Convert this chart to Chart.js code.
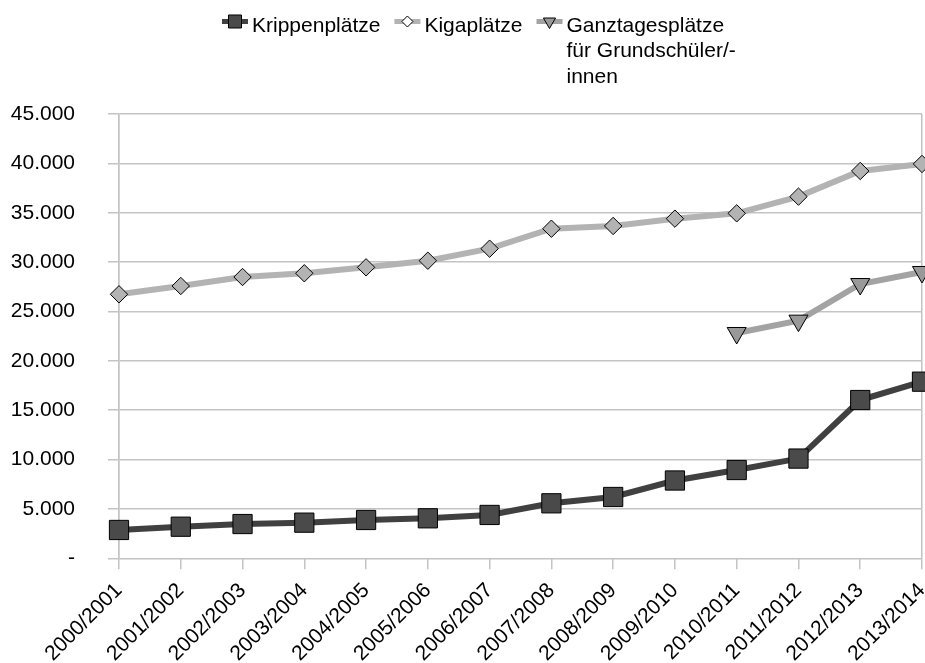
<!DOCTYPE html>
<html><head><meta charset="utf-8">
<script src="https://cdn.jsdelivr.net/npm/chart.js@4.4.1/dist/chart.umd.min.js"></script>
<style>html,body{margin:0;padding:0;background:#fff}#wrap{width:925px;height:663px;position:relative}canvas{display:block}</style>
</head><body><div id="wrap"><canvas id="c" width="925" height="663"></canvas></div>
<script>
const categories = ['2000/2001','2001/2002','2002/2003','2003/2004','2004/2005','2005/2006','2006/2007','2007/2008','2008/2009','2009/2010','2010/2011','2011/2012','2012/2013','2013/2014'];
const krippenplaetze = [2870,3200,3470,3610,3880,4050,4390,5570,6210,7880,8940,10100,16030,17890];
const kigaplaetze = [26740,27580,28490,28870,29470,30140,31360,33380,33660,34400,34940,36630,39230,39940];
const ganztagesplaetze = [null,null,null,null,null,null,null,null,null,null,22820,24070,27780,29000];
const seriesNames = ['Krippenplätze','Kigaplätze',['Ganztagesplätze','für Grundschüler/-','innen']];
const yTickValues = [0,5000,10000,15000,20000,25000,30000,35000,40000,45000];

const FONT = 'Liberation Sans, Arial, sans-serif';
const GRID = '#c4c4c4';

const styles = [
  {line:'#404040', fill:'#4a4a4a', pt:'rect', r:13.6, rot:0, legendFill:'#4a4a4a', legendR:9.2},
  {line:'#b3b3b3', fill:'#b3b3b3', pt:'rectRot', r:8.7, rot:0, legendFill:'#ffffff', legendR:5.5},
  {line:'#a3a3a3', fill:'#999999', pt:'triangle', r:11, rot:180, legendFill:'#999999', legendR:7}
];

const legendPlugin = {
  id: 'customLegend',
  afterDraw(chart) {
    const ctx = chart.ctx;
    ctx.save();
    ctx.font = '21px ' + FONT;
    ctx.textBaseline = 'alphabetic';
    ctx.textAlign = 'left';
    let x = 222;
    const yc = 21.5, base = 31.7, lh = 25.5;
    chart.data.datasets.forEach((ds, i) => {
      const st = styles[i];
      ctx.strokeStyle = st.line;
      ctx.lineWidth = 5;
      ctx.beginPath(); ctx.moveTo(x, yc); ctx.lineTo(x + 26, yc); ctx.stroke();
      ctx.fillStyle = st.legendFill;
      ctx.strokeStyle = '#000';
      ctx.lineWidth = 1;
      Chart.helpers.drawPoint(ctx, {pointStyle: st.pt, rotation: st.rot, radius: st.legendR, borderWidth: 1}, x + 13, yc);
      const lines = Array.isArray(seriesNames[i]) ? seriesNames[i] : [seriesNames[i]];
      ctx.fillStyle = '#000';
      let w = 0;
      lines.forEach((t, k) => { ctx.fillText(t, x + 30, base + k * lh); w = Math.max(w, ctx.measureText(t).width); });
      x += 30 + w + 14;
    });
    ctx.restore();
  }
};

const seriesData = [krippenplaetze, kigaplaetze, ganztagesplaetze];
const datasets = seriesData.map((d, i) => ({
  label: Array.isArray(seriesNames[i]) ? seriesNames[i].join(' ') : seriesNames[i],
  data: d,
  borderColor: styles[i].line,
  backgroundColor: styles[i].fill,
  borderWidth: 6,
  pointStyle: styles[i].pt,
  pointRotation: styles[i].rot,
  pointRadius: styles[i].r,
  pointHoverRadius: styles[i].r,
  pointBackgroundColor: styles[i].fill,
  pointBorderColor: '#000',
  pointBorderWidth: 1,
  tension: 0,
  spanGaps: false,
  clip: false
}));

new Chart(document.getElementById('c'), {
  type: 'line',
  data: { labels: categories, datasets },
  options: {
    responsive: false,
    animation: false,
    devicePixelRatio: 1,
    layout: { autoPadding: false, padding: { top: 114, left: 10, right: 3, bottom: 0 } },
    plugins: { legend: { display: false }, tooltip: { enabled: false } },
    scales: {
      x: {
        offset: false,
        grid: {
          color: c => (c.index === 0 || c.index === categories.length - 1) ? GRID : 'rgba(0,0,0,0)',
          tickColor: GRID,
          tickLength: 11,
          lineWidth: 1.5,
          drawOnChartArea: true
        },
        border: { display: false },
        ticks: {
          color: '#000',
          font: { family: FONT, size: 21 },
          maxRotation: 45, minRotation: 45,
          padding: 9,
          autoSkip: false
        },
        afterFit(s) { s.height = 663 - 558.3; s.paddingLeft = 0; s.paddingRight = 0; }
      },
      y: {
        min: 0, max: 45000,
        afterBuildTicks(s) { s.ticks = yTickValues.map(v => ({ value: v })); },
        grid: { color: GRID, tickColor: GRID, tickLength: 11, lineWidth: 1.5 },
        border: { display: true, color: GRID, width: 1.5 },
        ticks: {
          color: '#000',
          font: { family: FONT, size: 21 },
          padding: 33,
          callback: v => v === 0 ? '-' : v.toLocaleString('de-DE')
        },
        afterFit(s) { s.width = 109; s.paddingTop = 0; s.paddingBottom = 0; }
      }
    }
  },
  plugins: [legendPlugin]
});
</script>
</body></html>
